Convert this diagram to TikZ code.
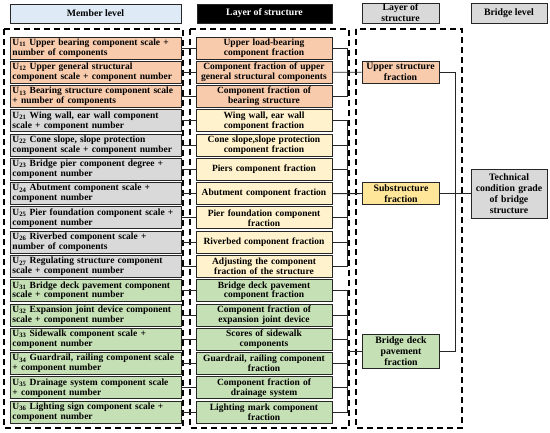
\documentclass[tikz,border=0pt]{standalone}
\usepackage{fontspec}
\setmainfont{Liberation Serif}
\definecolor{cOr}{HTML}{F8CBAD}
\definecolor{cYl}{HTML}{FFF2CC}
\definecolor{cYs}{HTML}{FFE699}
\definecolor{cGr}{HTML}{C5E0B4}
\definecolor{cGy}{HTML}{D9D9D9}
\definecolor{cBl}{HTML}{DEEBF7}
\definecolor{cLn}{HTML}{262626}
\begin{document}
\begin{tikzpicture}[x=1pt,y=-1pt,
  every node/.style={font=\bfseries\fontsize{9.5}{9.9}\selectfont},
  bx/.style={draw=cLn,line width=0.8pt,minimum height=22pt,inner sep=0pt},
  lbox/.style={bx,minimum width=171pt,text width=166pt,align=left},
  mbox/.style={bx,minimum width=136pt,text width=135pt,align=center},
  rbox/.style={bx,minimum width=77pt,text width=76pt,align=center,font=\bfseries\fontsize{9.8}{11}\selectfont},
  hdr/.style={bx,minimum height=19pt,align=center,font=\bfseries\fontsize{9.8}{11}\selectfont},
  conn/.style={draw=cLn,line width=0.8pt},
  dbox/.style={draw=black,line width=1.8pt,dash pattern=on 6pt off 4pt}]
\useasboundingbox (0,0) rectangle (550,433);
% headers
\node[hdr,fill=cBl,minimum width=171pt] (h1) at (95.5,13.5) {Member level};
\node[hdr,fill=black,text=white,minimum width=135pt] (h2) at (264.5,13.5) {Layer of structure};
\node[hdr,fill=cGy,minimum width=77pt,minimum height=20pt] (h3) at (400.5,13) {Layer of\\structure};
\node[hdr,fill=cGy,minimum width=76pt,minimum height=20pt] (h4) at (509,13) {Bridge level};
% dashed frames
\draw[dbox] (4,29) rectangle (183,428);
\draw[dbox] (190,29) rectangle (349,428);
\draw[dbox] (356,29) rectangle (462,428);
% left column
\foreach \i/\c/\t in {
 1/cOr/{U\textsubscript{11} Upper bearing component scale +\\number of components},
 2/cOr/{U\textsubscript{12} Upper general structural\\component scale + component number},
 3/cOr/{U\textsubscript{13} Bearing structure component scale\\+ number of components},
 4/cGy/{U\textsubscript{21} Wing wall, ear wall component\\scale + component number},
 5/cGy/{U\textsubscript{22} Cone slope, slope protection\\component scale + component number},
 6/cGy/{U\textsubscript{23} Bridge pier component degree +\\component number},
 7/cGy/{U\textsubscript{24} Abutment component scale +\\component number},
 8/cGy/{U\textsubscript{25} Pier foundation component scale +\\component number},
 9/cGy/{U\textsubscript{26} Riverbed component scale +\\number of components},
 10/cGy/{U\textsubscript{27} Regulating structure component\\scale + component number},
 11/cGr/{U\textsubscript{31} Bridge deck pavement component\\scale + component number},
 12/cGr/{U\textsubscript{32} Expansion joint device component\\scale + component number},
 13/cGr/{U\textsubscript{33} Sidewalk component scale +\\component number},
 14/cGr/{U\textsubscript{34} Guardrail, railing component scale\\+ component number},
 15/cGr/{U\textsubscript{35} Drainage system component scale\\+ component number},
 16/cGr/{U\textsubscript{36} Lighting sign component scale +\\component number}}
 {\node[lbox,fill=\c] (l\i) at (95.5,{48+(\i-1)*24.27}) {\t};}
% middle column
\foreach \i/\c/\t in {
 1/cOr/{Upper load-bearing\\component fraction},
 2/cOr/{Component fraction of upper\\general structural components},
 3/cOr/{Component fraction of\\bearing structure},
 4/cYl/{Wing wall, ear wall\\component fraction},
 5/cYl/{Cone slope,slope protection\\component fraction},
 6/cYl/{Piers component fraction},
 7/cYl/{Abutment component fraction},
 8/cYl/{Pier foundation component\\fraction},
 9/cYl/{Riverbed component fraction},
 10/cYl/{Adjusting the component\\fraction of the structure},
 11/cGr/{Bridge deck pavement\\component fraction},
 12/cGr/{Component fraction of\\expansion joint device},
 13/cGr/{Scores of sidewalk\\components},
 14/cGr/{Guardrail, railing component\\fraction},
 15/cGr/{Component fraction of\\drainage system},
 16/cGr/{Lighting mark component\\fraction}}
 {\node[mbox,fill=\c] (m\i) at (264,{48+(\i-1)*24.27}) {\t};
  \draw[conn] (l\i.east) -- (m\i.west);}
% layer of structure
\node[rbox,fill=cOr] (up) at (400.5,72.3) {Upper structure\\fraction};
\node[rbox,fill=cYs] (sub) at (401,193.6) {Substructure\\fraction};
\node[rbox,fill=cGr,minimum height=34pt] (bd) at (401,351.4) {Bridge deck\\pavement\\fraction};
\node[rbox,fill=cGy,minimum width=76pt,minimum height=49pt] (tc) at (509,193.6) {Technical\\condition grade\\of bridge\\structure};
% brackets
\coordinate (bx) at (347,0);
\coordinate (vx) at (455,0);
\draw[conn] (m1.east) -- (m1.east -| bx) |- (m3.east);
\draw[conn] (m2.east) -- (up.west);
\draw[conn] (m4.east) -- (m4.east -| bx) |- (m10.east);
\foreach \i in {5,6,8,9} {\draw[conn] (m\i.east) -- (m\i.east -| bx);}
\draw[conn] (m7.east) -- (sub.west);
\draw[conn] (m11.east) -- (m11.east -| bx) |- (m16.east);
\foreach \i in {12,13,14,15} {\draw[conn] (m\i.east) -- (m\i.east -| bx);}
\draw[conn] (bx |- bd.west) -- (bd.west);
\draw[conn] (up.east) -- (up.east -| vx) |- (bd.east);
\draw[conn] (sub.east) -- (tc.west);
\end{tikzpicture}
\end{document}
